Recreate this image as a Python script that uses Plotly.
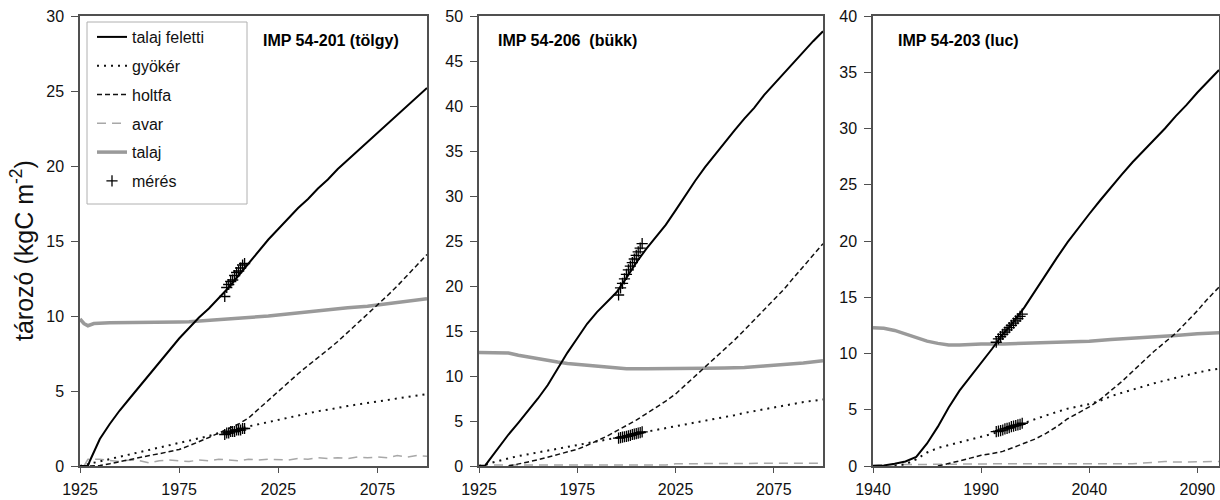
import plotly.graph_objects as go

# ---------------- Panel 1: IMP 54-201 (tölgy) ----------------
p1_feletti_x = [1925, 1929, 1930, 1935, 1940, 1945, 1950, 1955, 1960, 1965, 1970, 1975, 1980, 1985,
                1990, 1995, 2000, 2005, 2010, 2015, 2020, 2025, 2030, 2035, 2040, 2045, 2050, 2055,
                2060, 2065, 2070, 2075, 2080, 2085, 2090, 2095, 2100]
p1_feletti_y = [0, 0, 0.35, 1.8, 2.8, 3.7, 4.5, 5.3, 6.1, 6.9, 7.7, 8.5, 9.2, 9.9,
                10.5, 11.2, 11.9, 12.7, 13.5, 14.3, 15.1, 15.8, 16.5, 17.2, 17.8, 18.5, 19.1, 19.8,
                20.4, 21.0, 21.6, 22.2, 22.8, 23.4, 24.0, 24.6, 25.2]

p1_gyoker_x = [1925, 1930, 1935, 1940, 1945, 1950, 1955, 1960, 1965, 1970, 1975, 1980, 1985, 1990,
               1995, 2000, 2005, 2010, 2015, 2020, 2025, 2030, 2035, 2040, 2045, 2050, 2055, 2060,
               2065, 2070, 2075, 2080, 2085, 2090, 2095, 2100]
p1_gyoker_y = [0, 0.15, 0.3, 0.45, 0.6, 0.75, 0.9, 1.05, 1.2, 1.35, 1.5, 1.7, 1.85, 2.0,
               2.2, 2.35, 2.5, 2.65, 2.8, 2.95, 3.1, 3.25, 3.4, 3.5, 3.65, 3.75, 3.9, 4.0,
               4.1, 4.2, 4.3, 4.4, 4.5, 4.6, 4.7, 4.8]

p1_holtfa_x = [1930, 1935, 1940, 1945, 1950, 1955, 1960, 1965, 1970, 1975, 1980, 1985, 1990, 1995,
               2000, 2005, 2010, 2015, 2020, 2025, 2030, 2035, 2040, 2045, 2050, 2055, 2060, 2065,
               2070, 2075, 2080, 2085, 2090, 2095, 2100]
p1_holtfa_y = [0, 0.03, 0.15, 0.3, 0.45, 0.57, 0.7, 0.82, 0.95, 1.1, 1.35, 1.6, 1.9, 2.2,
               2.5, 2.8, 3.2, 3.8, 4.4, 5.0, 5.6, 6.15, 6.7, 7.2, 7.75, 8.3, 8.9, 9.5,
               10.1, 10.7, 11.35, 12.0, 12.7, 13.4, 14.1]

p1_avar_x = [1927, 1929, 1935, 1940, 1945, 1950, 1955, 1960, 1965, 1970, 1975, 1980, 1985, 1990,
             1995, 2000, 2005, 2010, 2015, 2020, 2025, 2030, 2035, 2040, 2045, 2050, 2055, 2060,
             2065, 2070, 2075, 2080, 2085, 2090, 2095, 2100]
p1_avar_y = [0.0, 0.45, 0.45, 0.35, 0.3, 0.4, 0.35, 0.2, 0.35, 0.4, 0.35, 0.3, 0.4, 0.35,
             0.45, 0.4, 0.35, 0.45, 0.4, 0.45, 0.45, 0.4, 0.5, 0.45, 0.55, 0.5, 0.55, 0.5,
             0.6, 0.55, 0.6, 0.55, 0.7, 0.6, 0.7, 0.65]

p1_talaj_x = [1925, 1927, 1929, 1932, 1940, 1950, 1960, 1970, 1975, 1980, 1990, 2000, 2010, 2020,
              2030, 2040, 2050, 2060, 2070, 2080, 2090, 2100]
p1_talaj_y = [9.8, 9.5, 9.35, 9.5, 9.55, 9.55, 9.55, 9.6, 9.6, 9.62, 9.7, 9.8, 9.9, 10.0,
              10.15, 10.25, 10.4, 10.55, 10.65, 10.8, 10.95, 11.15]

p1_meres_x = [1998, 1999, 2000, 2001, 2002, 2003, 2004, 2005, 2006, 2007, 2008]
p1_meres_felszin = [11.3, 11.9, 12.1, 12.3, 12.4, 12.7, 12.9, 13.0, 13.2, 13.4, 13.5]
p1_meres_gyoker = [2.1, 2.2, 2.2, 2.3, 2.3, 2.3, 2.4, 2.4, 2.4, 2.5, 2.5]

# ---------------- Panel 2: IMP 54-206 (bükk) ----------------
p2_feletti_x = [1925, 1928, 1930, 1935, 1940, 1945, 1950, 1955, 1960, 1965, 1970, 1975, 1980, 1985,
                1990, 1995, 2000, 2005, 2010, 2015, 2020, 2025, 2030, 2035, 2040, 2045, 2050, 2055,
                2060, 2065, 2070, 2075, 2080, 2085, 2090, 2095, 2100]
p2_feletti_y = [0, 0, 0.6, 2.1, 3.5, 4.8, 6.1, 7.5, 9.0, 10.8, 12.6, 14.2, 15.8, 17.1,
                18.2, 19.3, 20.9, 22.6, 24.1, 25.5, 26.8, 28.4, 30.1, 31.7, 33.2, 34.6, 35.9, 37.3,
                38.6, 39.8, 41.2, 42.4, 43.7, 44.8, 46.0, 47.2, 48.3]

p2_gyoker_x = [1925, 1930, 1935, 1940, 1945, 1950, 1955, 1960, 1965, 1970, 1975, 1980, 1985, 1990,
               1995, 2000, 2005, 2010, 2015, 2020, 2025, 2030, 2035, 2040, 2045, 2050, 2055, 2060,
               2065, 2070, 2075, 2080, 2085, 2090, 2095, 2100]
p2_gyoker_y = [0, 0.3, 0.55, 0.85, 1.1, 1.3, 1.55, 1.75, 1.95, 2.15, 2.35, 2.55, 2.75, 2.95,
               3.15, 3.35, 3.55, 3.8, 4.0, 4.2, 4.4, 4.6, 4.8, 5.0, 5.2, 5.45, 5.65, 5.9,
               6.1, 6.35, 6.55, 6.75, 6.9, 7.1, 7.25, 7.4]

p2_holtfa_x = [1940, 1945, 1950, 1955, 1960, 1965, 1970, 1975, 1980, 1985, 1990, 1995, 2000, 2005,
               2010, 2015, 2020, 2025, 2030, 2035, 2040, 2045, 2050, 2055, 2060, 2065, 2070, 2075,
               2080, 2085, 2090, 2095, 2100]
p2_holtfa_y = [0, 0.2, 0.45, 0.7, 1.0, 1.3, 1.55, 1.85, 2.3, 2.8, 3.3, 3.9, 4.5, 5.1,
               5.8, 6.5, 7.2, 8.0, 9.0, 9.9, 10.9, 11.9, 12.9, 14.0, 15.1, 16.2, 17.3, 18.4,
               19.6, 20.9, 22.2, 23.4, 24.7]

p2_avar_x = [1925, 1950, 1975, 2000, 2020, 2025, 2050, 2075, 2100]
p2_avar_y = [0.1, 0.1, 0.1, 0.1, 0.1, 0.25, 0.3, 0.3, 0.3]

p2_talaj_x = [1925, 1935, 1940, 1945, 1950, 1955, 1960, 1965, 1970, 1975, 1980, 1985, 1990, 1995,
              2000, 2010, 2020, 2030, 2040, 2050, 2060, 2070, 2080, 2090, 2100]
p2_talaj_y = [12.6, 12.6, 12.55, 12.3, 12.1, 11.9, 11.7, 11.55, 11.4, 11.3, 11.2, 11.05, 10.95, 10.85,
              10.8, 10.8, 10.8, 10.8, 10.85, 10.9, 10.95, 11.1, 11.25, 11.45, 11.7]

p2_meres_x = [1996, 1997, 1998, 1999, 2000, 2001, 2002, 2003, 2004, 2005, 2006, 2007, 2008]
p2_meres_felszin = [19.0, 19.8, 20.3, 20.8, 21.3, 21.8, 22.2, 22.6, 23.0, 23.4, 23.8, 24.2, 24.7]
p2_meres_gyoker = [3.1, 3.15, 3.2, 3.25, 3.3, 3.35, 3.4, 3.5, 3.55, 3.6, 3.65, 3.7, 3.8]

# ---------------- Panel 3: IMP 54-203 (luc) ----------------
p3_feletti_x = [1940, 1945, 1950, 1955, 1960, 1965, 1970, 1975, 1980, 1985, 1990, 1995, 2000, 2005,
                2010, 2015, 2020, 2025, 2030, 2035, 2040, 2045, 2050, 2055, 2060, 2065, 2070, 2075,
                2080, 2085, 2090, 2095, 2100]
p3_feletti_y = [0, 0.05, 0.2, 0.4, 0.8, 2.0, 3.5, 5.2, 6.7, 7.9, 9.1, 10.4, 11.7, 12.8,
                14.1, 15.6, 17.0, 18.5, 19.9, 21.2, 22.4, 23.6, 24.8, 25.9, 27.0, 28.0, 29.0, 30.0,
                31.1, 32.1, 33.2, 34.2, 35.2]

p3_gyoker_x = [1950, 1955, 1960, 1965, 1970, 1975, 1980, 1985, 1990, 1995, 2000, 2005, 2010, 2015,
               2020, 2025, 2030, 2035, 2040, 2045, 2050, 2055, 2060, 2065, 2070, 2075, 2080, 2085,
               2090, 2095, 2100]
p3_gyoker_y = [0, 0.15, 0.6, 1.2, 1.6, 1.85, 2.1, 2.3, 2.55, 2.85, 3.15, 3.5, 3.85, 4.15,
               4.5, 4.8, 5.1, 5.3, 5.5, 5.8, 6.2, 6.5, 6.8, 7.1, 7.35, 7.6, 7.85, 8.1,
               8.3, 8.5, 8.65]

p3_holtfa_x = [1970, 1975, 1980, 1985, 1990, 1995, 2000, 2005, 2010, 2015, 2020, 2025, 2030, 2035,
               2040, 2045, 2050, 2055, 2060, 2065, 2070, 2075, 2080, 2085, 2090, 2095, 2100]
p3_holtfa_y = [0, 0.2, 0.45, 0.7, 0.95, 1.1, 1.3, 1.65, 2.0, 2.4, 2.9, 3.5, 4.2, 4.7,
               5.25, 5.9, 6.7, 7.5, 8.4, 9.3, 10.2, 11.0, 11.8, 12.8, 13.8, 14.9, 15.9]

p3_avar_x = [1940, 1960, 2000, 2060, 2070, 2075, 2080, 2090, 2100]
p3_avar_y = [0.1, 0.15, 0.2, 0.2, 0.3, 0.4, 0.35, 0.4, 0.4]

p3_talaj_x = [1940, 1945, 1950, 1955, 1960, 1965, 1970, 1975, 1980, 1985, 1990, 2000, 2010, 2020,
              2030, 2040, 2050, 2060, 2070, 2080, 2090, 2100]
p3_talaj_y = [12.3, 12.25, 12.05, 11.75, 11.4, 11.1, 10.9, 10.75, 10.75, 10.8, 10.85, 10.85, 10.9, 10.95,
              11.05, 11.1, 11.25, 11.35, 11.5, 11.6, 11.75, 11.85]

p3_meres_x = [1997, 1998, 1999, 2000, 2001, 2002, 2003, 2004, 2005, 2006, 2007, 2008, 2009]
p3_meres_felszin = [11.0, 11.3, 11.5, 11.7, 11.9, 12.1, 12.3, 12.5, 12.7, 12.9, 13.1, 13.3, 13.5]
p3_meres_gyoker = [3.05, 3.1, 3.15, 3.2, 3.3, 3.35, 3.4, 3.5, 3.55, 3.6, 3.65, 3.7, 3.8]

# ---------------- Panel setup ----------------
panel_titles = ["IMP 54-201 (tölgy)", "IMP 54-206\u00a0 (bükk)", "IMP 54-203 (luc)"]
x_ranges = [[1925, 2100], [1925, 2100], [1940, 2100]]
x_tick0 = [1925, 1925, 1940]
y_ranges = [[0, 30], [0, 50], [0, 40]]
series_names = ["talaj feletti", "gyökér", "holtfa", "avar", "talaj", "mérés"]

FONT = "Liberation Sans, Arial, sans-serif"
W, H = 1220, 500

panels = [
    dict(feletti=(p1_feletti_x, p1_feletti_y), gyoker=(p1_gyoker_x, p1_gyoker_y),
         holtfa=(p1_holtfa_x, p1_holtfa_y), avar=(p1_avar_x, p1_avar_y),
         talaj=(p1_talaj_x, p1_talaj_y), meres=(p1_meres_x, p1_meres_felszin, p1_meres_gyoker)),
    dict(feletti=(p2_feletti_x, p2_feletti_y), gyoker=(p2_gyoker_x, p2_gyoker_y),
         holtfa=(p2_holtfa_x, p2_holtfa_y), avar=(p2_avar_x, p2_avar_y),
         talaj=(p2_talaj_x, p2_talaj_y), meres=(p2_meres_x, p2_meres_felszin, p2_meres_gyoker)),
    dict(feletti=(p3_feletti_x, p3_feletti_y), gyoker=(p3_gyoker_x, p3_gyoker_y),
         holtfa=(p3_holtfa_x, p3_holtfa_y), avar=(p3_avar_x, p3_avar_y),
         talaj=(p3_talaj_x, p3_talaj_y), meres=(p3_meres_x, p3_meres_felszin, p3_meres_gyoker)),
]

# plot-area pixel boxes (left, right) and shared (top, bottom)
x_px = [(80, 427), (479, 823), (873, 1219)]
top_px, bot_px = 16, 466
title_px = [261, 496, 896]
legend_box_px = (87, 22, 247, 204)  # left, top, right, bottom

fig = go.Figure()

for i, p in enumerate(panels):
    suffix = "" if i == 0 else str(i + 1)
    xa, ya = "x" + suffix, "y" + suffix
    show = i == 0

    fig.add_trace(go.Scatter(x=p["talaj"][0], y=p["talaj"][1], mode="lines", name=series_names[4],
                             line=dict(color="#9a9a9a", width=3.5), xaxis=xa, yaxis=ya,
                             showlegend=show, legendgroup="g5", legendrank=5))
    fig.add_trace(go.Scatter(x=p["avar"][0], y=p["avar"][1], mode="lines", name=series_names[3],
                             line=dict(color="#a8a8a8", width=1.5, dash="9px,6px"), xaxis=xa, yaxis=ya,
                             showlegend=show, legendgroup="g4", legendrank=4))
    fig.add_trace(go.Scatter(x=p["gyoker"][0], y=p["gyoker"][1], mode="lines", name=series_names[1],
                             line=dict(color="#111111", width=2, dash="2px,5px"), xaxis=xa, yaxis=ya,
                             showlegend=show, legendgroup="g2", legendrank=2))
    fig.add_trace(go.Scatter(x=p["holtfa"][0], y=p["holtfa"][1], mode="lines", name=series_names[2],
                             line=dict(color="#111111", width=1.5, dash="5px,3px"), xaxis=xa, yaxis=ya,
                             showlegend=show, legendgroup="g3", legendrank=3))
    fig.add_trace(go.Scatter(x=p["feletti"][0], y=p["feletti"][1], mode="lines", name=series_names[0],
                             line=dict(color="#000000", width=2), xaxis=xa, yaxis=ya,
                             showlegend=show, legendgroup="g1", legendrank=1))
    mx, m_up, m_low = p["meres"]
    fig.add_trace(go.Scatter(x=mx + mx, y=m_up + m_low, mode="markers", name=series_names[5],
                             marker=dict(symbol="cross-thin", size=8,
                                         line=dict(color="#000000", width=1.3)),
                             xaxis=xa, yaxis=ya, showlegend=show, legendgroup="g6", legendrank=6))

    axis_common = dict(showgrid=False, zeroline=False, showline=True, mirror=True, automargin=False,
                       linecolor="#505050", linewidth=1.5, ticks="outside",
                       tickcolor="#505050", tickfont=dict(family=FONT, size=16, color="#111111"))
    fig.layout["xaxis" + suffix] = dict(
        axis_common, domain=[x_px[i][0] / W, x_px[i][1] / W], range=x_ranges[i],
        tick0=x_tick0[i], dtick=50, ticklen=5, ticklabelstandoff=3, anchor=ya)
    fig.layout["yaxis" + suffix] = dict(
        axis_common, domain=[1 - bot_px / H, 1 - top_px / H], range=y_ranges[i],
        dtick=5, ticklen=7, ticklabelstandoff=4, anchor=xa)

    fig.add_annotation(text="<b>" + panel_titles[i] + "</b>", xref="paper", yref="paper",
                       x=title_px[i] / W, y=1 - 41 / H, xanchor="left", yanchor="middle",
                       showarrow=False, font=dict(family=FONT, size=16, color="#000000"))

fig.add_annotation(text="tározó (kgC m<sup>-2</sup>)", xref="paper", yref="paper",
                   x=22 / W, y=1 - 251 / H, xanchor="center", yanchor="middle", textangle=-90,
                   showarrow=False, font=dict(family=FONT, size=25, color="#111111"))

# legend frame
lb = legend_box_px
fig.add_shape(type="rect", xref="paper", yref="paper", layer="above",
              x0=lb[0] / W, x1=lb[2] / W, y0=1 - lb[3] / H, y1=1 - lb[1] / H,
              line=dict(color="#b0b0b0", width=1), fillcolor="white")

fig.update_layout(
    width=W, height=H, margin=dict(l=0, r=0, t=0, b=0, autoexpand=False),
    paper_bgcolor="white", plot_bgcolor="white",
    font=dict(family=FONT, size=16, color="#111111"),
    legend=dict(x=(lb[0] + 5) / W, y=1 - (lb[1] - 2) / H, xanchor="left", yanchor="top",
                bgcolor="rgba(0,0,0,0)", borderwidth=0,
                font=dict(family=FONT, size=16, color="#111111"),
                tracegroupgap=5, traceorder="grouped"),
)

fig.write_html("out.html")
